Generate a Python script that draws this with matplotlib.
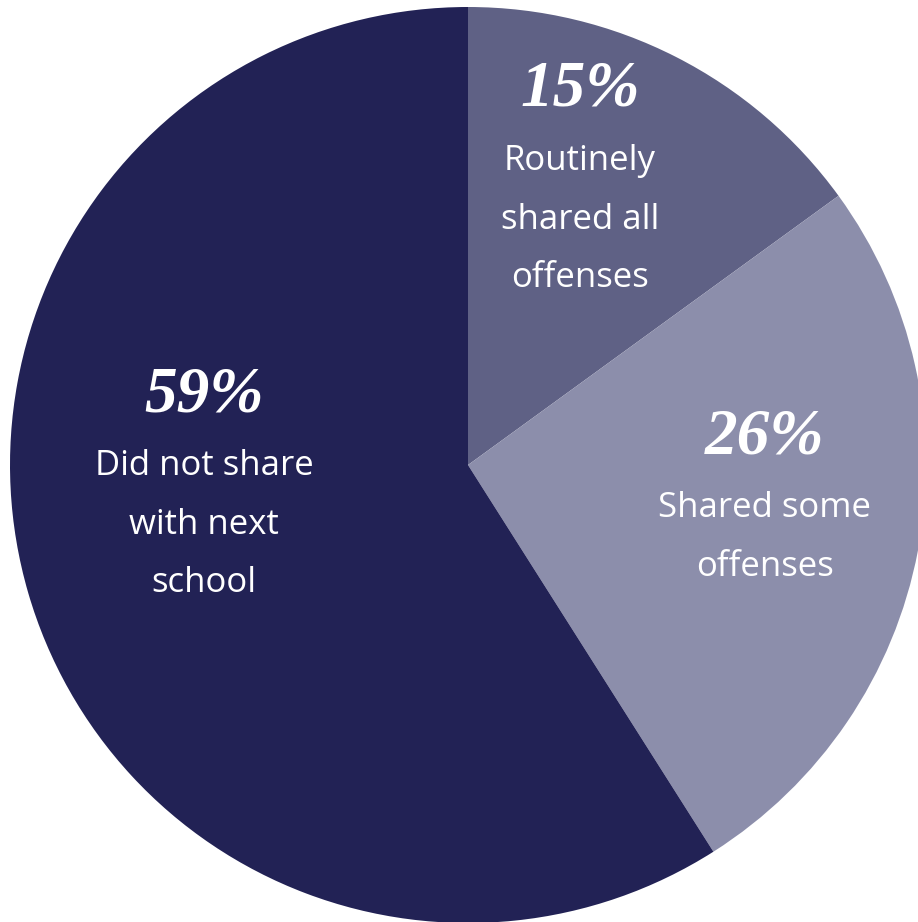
import matplotlib.pyplot as plt

# data
shares = [15, 26, 59]
pct_labels = ["15%", "26%", "59%"]
desc_labels = [
    ["Routinely", "shared all", "offenses"],
    ["Shared some", "offenses"],
    ["Did not share", "with next", "school"],
]
colors = ["#5f6185", "#8c8eab", "#222255"]

W, H = 918, 922
fig = plt.figure(figsize=(W / 100, H / 100), dpi=100)
ax = fig.add_axes([0, 0, 1, 1])

cx, cy, r = 468, -465, 458
ax.pie(shares, colors=colors, startangle=90, counterclock=False,
       center=(cx, cy), radius=r, frame=True,
       wedgeprops=dict(linewidth=0))
ax.set_xlim(0, W)
ax.set_ylim(-H, 0)
ax.set_aspect("equal")
ax.axis("off")

# label placement (pixel coords of the percentage line)
label_pos = [(580, 90), (765, 437), (204, 395)]
line_gap = 58.5
for pct, desc, (x, y) in zip(pct_labels, desc_labels, label_pos):
    ax.text(x, -y, pct, color="white", ha="center", va="center",
            fontsize=47, fontfamily="Liberation Serif",
            fontweight="bold", fontstyle="italic")
    for i, line in enumerate(desc):
        ax.text(x, -(y + 71 + i * line_gap), line, color="white",
                ha="center", va="center", fontsize=25,
                fontfamily="Open Sans")

fig.savefig("out.png", dpi=100)
